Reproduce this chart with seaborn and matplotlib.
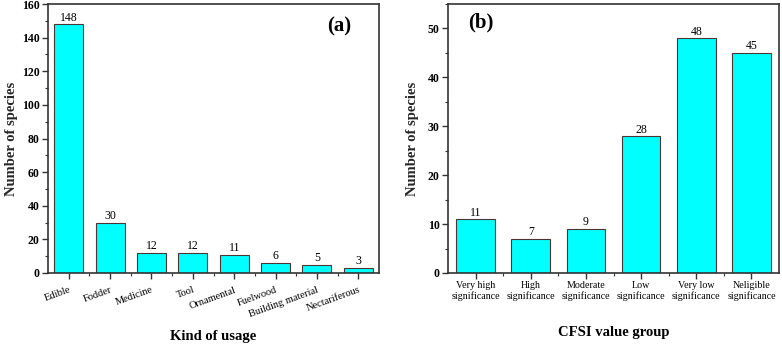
import matplotlib
matplotlib.use("Agg")
import matplotlib.pyplot as plt
from matplotlib.ticker import MultipleLocator, FixedLocator
import seaborn as sns
import pandas as pd

# panel (a): kind of usage
usage_labels = ["Edible", "Fodder", "Medicine", "Tool", "Ornamental",
                "Fuelwood", "Building material", "Nectariferous"]
usage_counts = [148, 30, 12, 12, 11, 6, 5, 3]

# panel (b): CFSI value group
cfsi_labels = ["Very high\nsignificance", "High\nsignificance",
               "Moderate\nsignificance", "Low\nsignificance",
               "Very low\nsignificance", "Neligible\nsignificance"]
cfsi_counts = [11, 7, 9, 28, 48, 45]

sns.set_theme(style="ticks")
plt.rcParams["font.family"] = ["Liberation Serif", "DejaVu Serif"]
plt.rcParams["axes.edgecolor"] = "#333333"
plt.rcParams["xtick.color"] = "#333333"
plt.rcParams["ytick.color"] = "#333333"
plt.rcParams["ytick.labelcolor"] = "black"
plt.rcParams["xtick.labelcolor"] = "black"
plt.rcParams["ytick.labelsize"] = 8.5
plt.rcParams["xtick.labelsize"] = 7.5
plt.rcParams["text.color"] = "black"

BAR = "#00FFFF"
EDGE = "#4a3535"

fig = plt.figure(figsize=(7.82, 3.45), dpi=100)
ax1 = fig.add_axes([0.0614, 0.2087, 0.4233, 0.7797])
ax2 = fig.add_axes([0.5729, 0.2087, 0.4233, 0.7797])


def draw(ax, labels, counts, ymax, major, minor, tag, tag_xy,
         xlabel, xlabel_y, ylabel_pad):
    df = pd.DataFrame({"group": labels, "n": counts})
    sns.barplot(data=df, x="group", y="n", color=BAR, saturation=1,
                edgecolor=EDGE, linewidth=0.8, width=0.7, ax=ax)
    ax.set_xlim(-0.5, len(labels) - 0.5)
    ax.set_ylim(0, ymax)
    yt = list(range(0, ymax + 1, major))
    ax.set_yticks(yt)
    ax.set_yticklabels([str(t) for t in yt], fontsize=8.5, fontweight="bold")
    ax.yaxis.set_minor_locator(MultipleLocator(minor))
    ax.xaxis.set_minor_locator(FixedLocator([i + 0.5 for i in range(len(labels) - 1)]))
    for s in ax.spines.values():
        s.set_visible(True)
        s.set_linewidth(1.2)
    ax.tick_params(axis="both", which="major", direction="out", length=4,
                   width=1.0, pad=2)
    ax.tick_params(axis="both", which="minor", direction="out", length=2.5, width=0.8)
    for i, v in enumerate(counts):
        ax.text(i, v + ymax * 0.002, str(v), ha="center", va="bottom", fontsize=8.5)
    ax.text(tag_xy[0], tag_xy[1], tag, transform=ax.transAxes, fontsize=15,
            fontweight="bold", ha="center", va="center")
    ax.set_ylabel("Number of species", fontsize=10.5, fontweight="bold",
                  labelpad=ylabel_pad)
    ax.set_xlabel("")
    fig.text(ax.get_position().x0 + ax.get_position().width / 2, xlabel_y, xlabel,
             fontsize=10.5, fontweight="bold", ha="center", va="center")


draw(ax1, usage_labels, usage_counts, 160, 20, 10, "(a)", (0.88, 0.915),
     "Kind of usage", 0.026, 3)
draw(ax2, cfsi_labels, cfsi_counts, 55, 10, 5, "(b)", (0.10, 0.93),
     "CFSI value group", 0.035, 6)

for lab in ax1.get_xticklabels():
    lab.set_rotation(20)
    lab.set_ha("right")
    lab.set_rotation_mode("anchor")
    lab.set_fontsize(7.5)
ax1.tick_params(axis="x", which="major", pad=5)
for lab in ax2.get_xticklabels():
    lab.set_fontsize(7.2)
    lab.set_linespacing(1.1)

fig.savefig("out.png", dpi=100)
